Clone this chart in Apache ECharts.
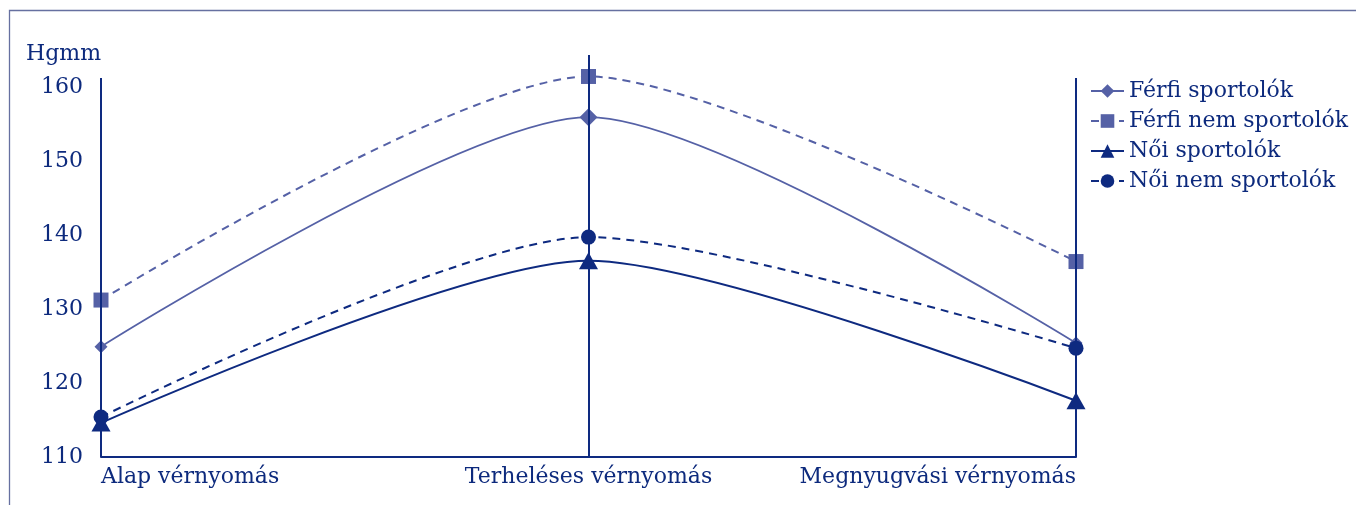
<!DOCTYPE html>
<html>
<head>
<meta charset="utf-8">
<style>
  html, body { margin: 0; padding: 0; background: #ffffff; }
  #chart { width: 1356px; height: 505px; }
</style>
<script src="https://cdn.jsdelivr.net/npm/echarts@6/dist/echarts.min.js"></script>
</head>
<body>
<div id="chart"></div>
<script>
// Blood pressure (Hgmm) at rest, under load and after recovery
const categories = ['Alap vérnyomás', 'Terheléses vérnyomás', 'Megnyugvási vérnyomás'];
const ferfiSportolok = [124.9, 155.9, 125.4];
const ferfiNemSportolok = [131.2, 161.4, 136.4];
const noiSportolok = [114.6, 136.5, 117.6];
const noiNemSportolok = [115.4, 139.7, 124.7];
const seriesNames = ['Férfi sportolók', 'Férfi nem sportolók', 'Női sportolók', 'Női nem sportolók'];
const yTicks = [110, 120, 130, 140, 150, 160];
const yUnit = 'Hgmm';

const FONT = 'DejaVu Serif';
const FS = 22;
const TEXT = '#0d2a7d';
const NAVY = '#0e2a80';
const LILAC = '#5561a6';
const SMOOTH = 0.25;
const DASH = [8, 6];

// Vertical guide lines at each measurement point
const guide = (cat, top) => [{ coord: [cat, yTicks[0]] }, { coord: [cat, top] }];

const chart = echarts.init(document.getElementById('chart'), null, { renderer: 'canvas' });
chart.setOption({
  animation: false,
  backgroundColor: '#ffffff',
  textStyle: { fontFamily: FONT, color: TEXT },
  title: {
    text: yUnit, left: 21, top: 38,
    textStyle: { fontFamily: FONT, fontWeight: 'normal', fontSize: FS, color: TEXT }
  },
  graphic: [{
    type: 'rect', left: 7, top: 8, silent: true,
    shape: { width: 1400, height: 600 },
    style: { fill: 'none', stroke: '#6670a0', lineWidth: 1.3 }
  }],
  legend: {
    orient: 'vertical', left: 1085, top: 75,
    itemWidth: 33, itemHeight: 17, itemGap: 8,
    textStyle: { fontFamily: FONT, fontSize: FS, color: TEXT },
    data: seriesNames
  },
  grid: { left: 101, right: 280, top: 55, bottom: 48, containLabel: false },
  xAxis: {
    type: 'category', data: categories, boundaryGap: false,
    axisLine: { lineStyle: { color: NAVY, width: 2 } },
    axisTick: { show: false },
    splitLine: { show: false },
    axisLabel: {
      fontFamily: FONT, fontSize: FS, color: TEXT, margin: 9,
      alignMinLabel: 'left', alignMaxLabel: 'right'
    }
  },
  yAxis: {
    type: 'value', min: 110, max: 164.3, interval: 10,
    axisLine: { show: false }, axisTick: { show: false }, splitLine: { show: false },
    axisLabel: {
      fontFamily: FONT, fontSize: FS, color: TEXT, margin: 18, showMaxLabel: false,
      formatter: v => (yTicks.indexOf(v) >= 0 ? String(v) : '')
    }
  },
  series: [
    {
      name: seriesNames[0], type: 'line', data: ferfiSportolok, smooth: SMOOTH,
      symbol: 'diamond', symbolSize: (v, p) => (p.dataIndex === 1 ? 18 : 13), z: 3,
      lineStyle: { color: LILAC, width: 1.8 }, itemStyle: { color: LILAC },
      markLine: {
        silent: true, symbol: 'none', label: { show: false },
        lineStyle: { color: NAVY, width: 2, type: 'solid' },
        data: [guide(categories[0], 161.2), guide(categories[1], 164.3), guide(categories[2], 161.2)]
      }
    },
    {
      name: seriesNames[1], type: 'line', data: ferfiNemSportolok, smooth: SMOOTH,
      symbol: 'rect', symbolSize: 15, z: 3,
      lineStyle: { color: LILAC, width: 2, type: DASH }, itemStyle: { color: LILAC }
    },
    {
      name: seriesNames[2], type: 'line', data: noiSportolok, smooth: SMOOTH,
      symbol: 'triangle', symbolSize: [19, 17], z: 3,
      lineStyle: { color: NAVY, width: 2 }, itemStyle: { color: NAVY }
    },
    {
      name: seriesNames[3], type: 'line', data: noiNemSportolok, smooth: SMOOTH,
      symbol: 'circle', symbolSize: 15, z: 4,
      lineStyle: { color: NAVY, width: 2, type: DASH }, itemStyle: { color: NAVY }
    }
  ]
});
</script>
</body>
</html>
